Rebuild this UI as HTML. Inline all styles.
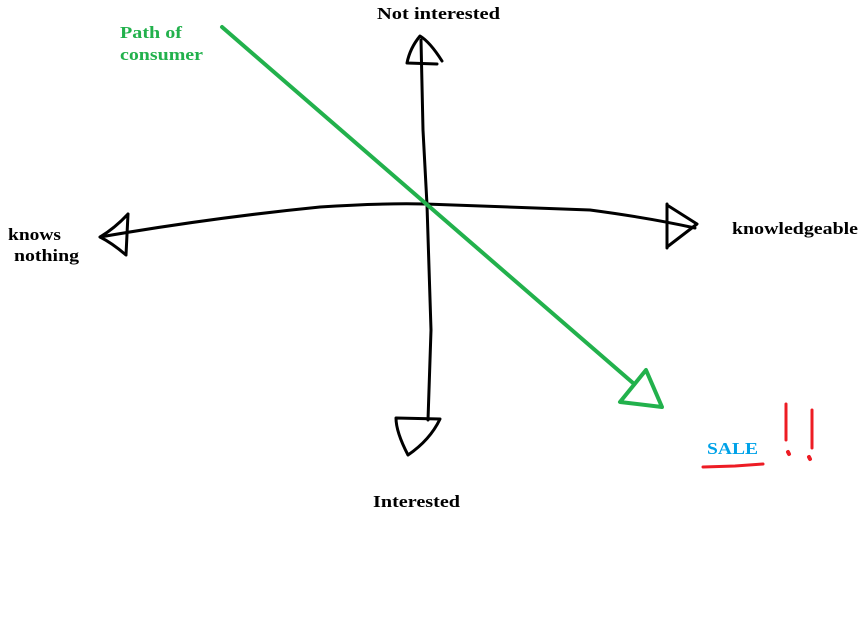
<!DOCTYPE html>
<html><head><style>
body{margin:0;background:#fff;width:859px;height:634px;overflow:hidden}
text{font-family:"Liberation Serif",serif;font-weight:bold;font-size:17px}
</style></head><body>
<svg width="859" height="634" xmlns="http://www.w3.org/2000/svg">
<g fill="none" stroke="#000" stroke-width="3" stroke-linecap="round" stroke-linejoin="round">
<path d="M421 40 L423 130 L427 205 L431 330 L428 420"/>
<path d="M407 63 L437 64 M407 63 Q410 48 420 36 Q430 42 442 61"/>
<path d="M396 418 L440 419 Q430 440 408 455 Q396 432 396 418"/>
<path d="M100 237 Q210 218 320 207 Q380 203 425 204 L590 210 Q650 218 695 228"/>
<path d="M128 214 L126 255 Q112 243 100 237 Q115 228 128 214"/>
<path d="M667 204 L667 248 M667 205 L697 224 L667 247"/>
</g>
<g fill="none" stroke="#22b14c" stroke-width="4" stroke-linecap="round" stroke-linejoin="round">
<path d="M222 27 L633 383"/>
<path d="M646 370 L620 402 L662 407 Z"/>
</g>
<g stroke="#ed1c24" stroke-width="3" stroke-linecap="round" fill="none">
<path d="M703 467 L735 466 L763 464"/>
<path d="M786 404 L786 440 M812 410 L812 448"/>
<path d="M788 452 L789 454 M809 457 L810 459" stroke-width="4"/>
</g>
<text x="377" y="19" textLength="123" lengthAdjust="spacingAndGlyphs">Not interested</text>
<text x="120" y="38" fill="#22b14c" textLength="62" lengthAdjust="spacingAndGlyphs">Path of</text>
<text x="120" y="60" fill="#22b14c" textLength="83" lengthAdjust="spacingAndGlyphs">consumer</text>
<text x="8" y="240" textLength="53" lengthAdjust="spacingAndGlyphs">knows</text>
<text x="14" y="261" textLength="65" lengthAdjust="spacingAndGlyphs">nothing</text>
<text x="732" y="234" textLength="126" lengthAdjust="spacingAndGlyphs">knowledgeable</text>
<text x="373" y="507" textLength="87" lengthAdjust="spacingAndGlyphs">Interested</text>
<text x="707" y="454" fill="#00a2e8" textLength="51" lengthAdjust="spacingAndGlyphs">SALE</text>
</svg>
</body></html>
